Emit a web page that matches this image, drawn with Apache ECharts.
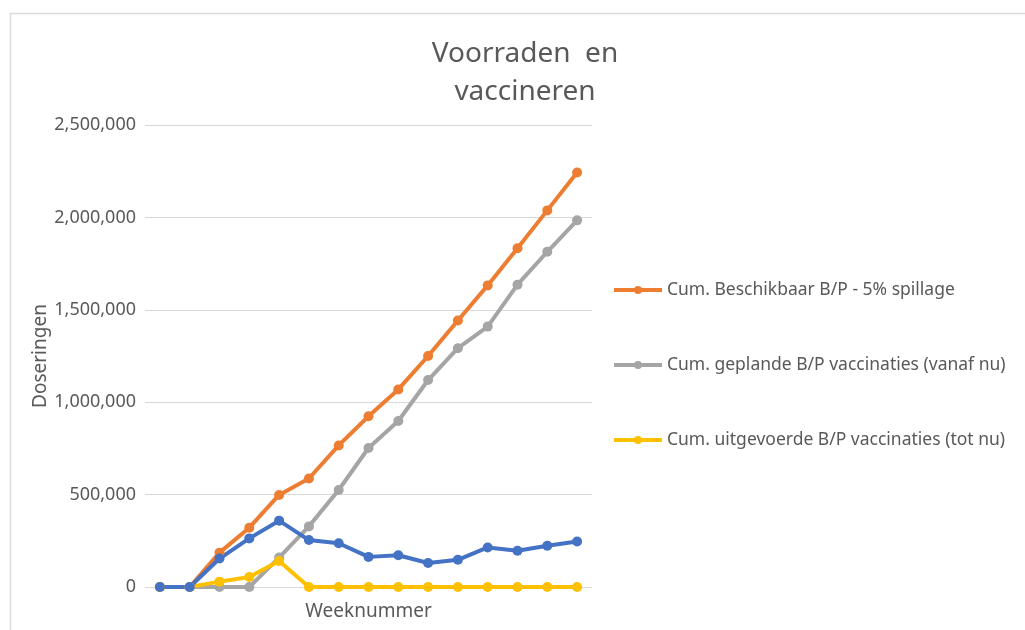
<!DOCTYPE html>
<html>
<head>
<meta charset="utf-8">
<script src="https://cdn.jsdelivr.net/npm/echarts@6/dist/echarts.min.js"></script>
<style>
  html, body { margin: 0; padding: 0; background: #fff; }
  #main { width: 1025px; height: 630px; }
</style>
</head>
<body>
<div id="main"></div>
<script>
// week numbers (no labels shown on the axis)
var weeks = ['1', '2', '3', '4', '5', '6', '7', '8', '9', '10', '11', '12', '13', '14', '15'];

var beschikbaar = [0, 0, 186000, 321000, 498000, 587000, 766000, 924000, 1069000, 1250000, 1442000, 1632000, 1833000, 2038000, 2243000];
var gepland = [0, 0, 0, 0, 159000, 328000, 525000, 752000, 898000, 1120000, 1292000, 1409000, 1636000, 1814000, 1984000];
var uitgevoerd = [0, 0, 29000, 54000, 141000, 0, 0, 0, 0, 0, 0, 0, 0, 0, 0];
var voorraad = [0, 0, 154000, 263000, 359000, 254000, 237000, 163000, 172000, 130000, 147000, 214000, 196000, 223000, 246000];

var yTicks = [0, 500000, 1000000, 1500000, 2000000, 2500000];

var textColor = '#595959';
var fontName = 'Noto Sans';

function lineSeries(name, data, color) {
	return {
		name: name,
		type: 'line',
		data: data,
		symbol: 'circle',
		symbolSize: 10,
		itemStyle: { color: color },
		lineStyle: { color: color, width: 4 },
		emphasis: { disabled: true },
		animation: false
	};
}

var myChart = echarts.init(document.getElementById('main'));

var option = {
	backgroundColor: '#fff',
	textStyle: { fontFamily: fontName },
	title: {
		text: 'Voorraden  en\nvaccineren',
		left: 520,
		top: 30,
		textAlign: 'center',
		textStyle: {
			color: textColor,
			fontSize: 28,
			fontWeight: 'normal',
			lineHeight: 38,
			fontFamily: fontName
		}
	},
	legend: {
		orient: 'vertical',
		left: 607,
		top: 276,
		itemWidth: 48,
		itemHeight: 10,
		itemGap: 57,
		lineStyle: { width: 4 },
		textStyle: { color: textColor, fontSize: 17.5, fontFamily: fontName },
		data: ['Cum. Beschikbaar B/P - 5% spillage', 'Cum. geplande B/P vaccinaties (vanaf nu)', 'Cum. uitgevoerde B/P vaccinaties (tot nu)']
	},
	grid: {
		left: 145,
		right: 433,
		top: 125,
		bottom: 43
	},
	xAxis: {
		type: 'category',
		data: weeks,
		name: 'Weeknummer',
		nameLocation: 'middle',
		nameGap: 15,
		nameTextStyle: { color: textColor, fontSize: 19 },
		axisLine: { show: false },
		axisTick: { show: false },
		axisLabel: { show: false }
	},
	yAxis: {
		type: 'value',
		min: yTicks[0],
		max: yTicks[yTicks.length - 1],
		interval: yTicks[1] - yTicks[0],
		name: 'Doseringen',
		nameLocation: 'middle',
		nameGap: 95,
		nameTextStyle: { color: textColor, fontSize: 19 },
		axisLine: { show: false },
		axisTick: { show: false },
		axisLabel: {
			color: textColor,
			fontSize: 18,
			margin: 9,
			formatter: function (v) { return v.toLocaleString('en-US'); }
		},
		splitLine: { lineStyle: { color: '#d9d9d9', width: 1 } }
	},
	graphic: [{
		type: 'rect',
		shape: { x: 10.5, y: 13.5, width: 1030, height: 640 },
		style: { fill: 'none', stroke: '#dcdcdc', lineWidth: 1.5 },
		silent: true
	}],
	series: [
		lineSeries('Cum. Beschikbaar B/P - 5% spillage', beschikbaar, '#ED7D31'),
		lineSeries('Cum. geplande B/P vaccinaties (vanaf nu)', gepland, '#A5A5A5'),
		lineSeries('Cum. uitgevoerde B/P vaccinaties (tot nu)', uitgevoerd, '#FFC000'),
		lineSeries('Voorraad', voorraad, '#4472C4')
	]
};

myChart.setOption(option);
</script>
</body>
</html>
